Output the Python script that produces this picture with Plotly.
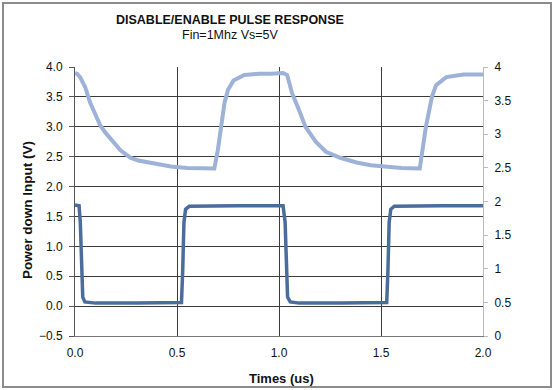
import plotly.graph_objects as go

# Output (light trace), right axis (V)
t_out = [0.000, 0.010, 0.025, 0.050, 0.074, 0.100, 0.124, 0.150, 0.173, 0.200,
         0.223, 0.250, 0.272, 0.310, 0.356, 0.420, 0.470, 0.550, 0.620, 0.683,
         0.700, 0.718, 0.733, 0.750, 0.777, 0.830, 0.900, 0.960, 1.020, 1.040,
         1.064, 1.098, 1.130, 1.180, 1.230, 1.300, 1.380, 1.450, 1.510, 1.600,
         1.690, 1.705, 1.720, 1.750, 1.770, 1.820, 1.905, 2.000]
v_out = [3.91, 3.90, 3.85, 3.70, 3.47, 3.28, 3.13, 3.02, 2.94, 2.85,
         2.76, 2.70, 2.65, 2.61, 2.58, 2.54, 2.52, 2.50, 2.49, 2.49,
         2.76, 3.11, 3.47, 3.66, 3.80, 3.88, 3.90, 3.90, 3.91, 3.88,
         3.61, 3.36, 3.11, 2.89, 2.74, 2.65, 2.58, 2.54, 2.52, 2.50,
         2.49, 2.76, 3.11, 3.56, 3.73, 3.85, 3.89, 3.89]

# Power down input (dark trace), left axis (V)
t_pd = [0.000, 0.020, 0.026, 0.032, 0.038, 0.048, 0.100, 0.300, 0.500, 0.522,
        0.528, 0.534, 0.542, 0.560, 0.800, 1.020, 1.030, 1.036, 1.042, 1.055,
        1.100, 1.300, 1.528, 1.534, 1.540, 1.548, 1.565, 1.800, 2.000]
v_pd = [1.69, 1.68, 1.40, 0.60, 0.15, 0.07, 0.05, 0.05, 0.05, 0.06,
        0.60, 1.40, 1.62, 1.67, 1.68, 1.68, 1.40, 0.60, 0.15, 0.07,
        0.05, 0.05, 0.06, 0.60, 1.40, 1.62, 1.67, 1.68, 1.68]

x_ticks = [0.0, 0.5, 1.0, 1.5, 2.0]
y_ticks = [-0.5, 0.0, 0.5, 1.0, 1.5, 2.0, 2.5, 3.0, 3.5, 4.0]
y2_ticks = [0, 0.5, 1, 1.5, 2, 2.5, 3, 3.5, 4]

FONT = "Arial, Liberation Sans, sans-serif"
GRID = "#3c3c3c"

fig = go.Figure()
fig.add_trace(go.Scatter(x=t_out, y=v_out, yaxis="y2", mode="lines",
                         line=dict(color="#9db2d6", width=4), showlegend=False))
fig.add_trace(go.Scatter(x=t_pd, y=v_pd, mode="lines",
                         line=dict(color="#4a6d9c", width=3.5), showlegend=False))

W, H = 554, 390
L, R, T, B = 75, 71, 67, 54
pw, ph = W - L - R, H - T - B

def px(x):
    return (x - L) / pw

def py(y):
    return (H - B - y) / ph

fig.update_layout(
    width=W, height=H,
    margin=dict(l=L, r=R, t=T, b=B),
    paper_bgcolor="white", plot_bgcolor="white",
    font=dict(family=FONT, size=12, color="#111"),
    xaxis=dict(range=[0, 2.0], tickvals=x_ticks, tickformat=".1f",
               showgrid=True, gridcolor=GRID, gridwidth=1,
               showline=True, linecolor="#777", linewidth=1,
               ticks="", ticklabelstandoff=6, zeroline=False,
               tickfont=dict(size=12, color="#111")),
    yaxis=dict(range=[-0.5, 4.0], tickvals=y_ticks, tickformat=".1f",
               showgrid=True, gridcolor=GRID, gridwidth=1,
               showline=True, linecolor="#555", linewidth=1,
               ticks="outside", ticklen=5, tickcolor="#555",
               ticklabelstandoff=4, zeroline=False,
               tickfont=dict(size=12, color="#111")),
    yaxis2=dict(range=[0, 4], tickvals=y2_ticks, overlaying="y", side="right",
                showgrid=False, showline=True, linecolor="#bbbbbb", linewidth=1,
                ticks="outside", ticklen=4, tickcolor="#bbbbbb",
                ticklabelstandoff=4, zeroline=False,
                tickfont=dict(size=12, color="#111")),
    annotations=[
        dict(text="<b>DISABLE/ENABLE PULSE RESPONSE</b>", xref="paper", yref="paper",
             x=px(230), y=py(20.5), showarrow=False, font=dict(size=12.5, family=FONT, color="#111"),
             xanchor="center", yanchor="middle"),
        dict(text="Fin=1Mhz Vs=5V", xref="paper", yref="paper",
             x=px(230), y=py(35), showarrow=False, font=dict(size=12.5, family=FONT, color="#111"),
             xanchor="center", yanchor="middle"),
        dict(text="<b>Power down Input (V)</b>", xref="paper", yref="paper",
             x=px(27), y=py(210), showarrow=False, textangle=-90,
             font=dict(size=13.5, family=FONT, color="#111"),
             xanchor="center", yanchor="middle"),
        dict(text="<b>Times (us)</b>", xref="paper", yref="paper",
             x=px(281), y=py(378), showarrow=False,
             font=dict(size=13, family=FONT, color="#111"),
             xanchor="center", yanchor="middle"),
    ],
    shapes=[
        dict(type="rect", xref="paper", yref="paper",
             x0=px(3), x1=px(551), y0=py(387), y1=py(3),
             line=dict(color="#8c8c8c", width=2), layer="above"),
    ],
)

fig.write_html("out.html",
               config={"displayModeBar": False},
               post_script="document.body.style.margin='0';document.body.style.overflow='hidden';")
